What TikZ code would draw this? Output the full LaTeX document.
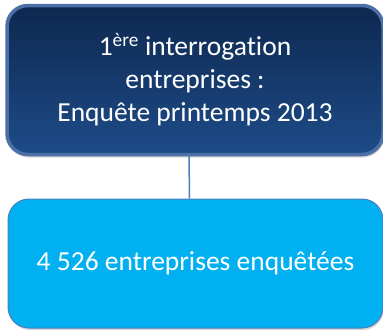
\documentclass[tikz,border=0pt]{standalone}
\usepackage{fontspec}
\setmainfont[Ligatures=NoCommon]{Carlito}
\usetikzlibrary{shadows}
\definecolor{navytop}{HTML}{0E2850}
\definecolor{navybot}{HTML}{1D4C88}
\definecolor{navyrim}{HTML}{4B6FA6}
\definecolor{skyfill}{HTML}{00B0F0}
\definecolor{skyrim}{HTML}{4A7EBB}

\tikzset{
	etape/.style={rectangle, rounded corners=21pt, align=center,
		text=white, font=\fontsize{27.5}{33}\selectfont, inner sep=0pt},
	lien/.style={draw=skyrim, line width=1.5pt}
}

\begin{document}
\begin{tikzpicture}
		\useasboundingbox (0pt,0pt) rectangle (383pt,-330pt);
	
		\node[etape, top color=navytop, bottom color=navybot,
		draw=navyrim, line width=3.5pt, minimum width=376pt,
		minimum height=149pt,
		drop shadow={shadow xshift=1pt, shadow yshift=-3pt, opacity=0.35}]
		(enquete) at (195pt,-80pt)
		{1\textsuperscript{ère} interrogation\\ entreprises :\\
		Enquête printemps 2013};
	
		\node[etape, fill=skyfill, draw=skyrim, line width=1pt,
		minimum width=375pt, minimum height=129pt,
		drop shadow={shadow xshift=1pt, shadow yshift=-2pt, opacity=0.3}]
		(effectif) at (195.5pt,-263.5pt)
		{4 526 entreprises enquêtées};
	
		\draw[lien] ([xshift=-6pt]enquete.south) -- ([xshift=-6pt]effectif.north);
	\end{tikzpicture}
\end{document}
